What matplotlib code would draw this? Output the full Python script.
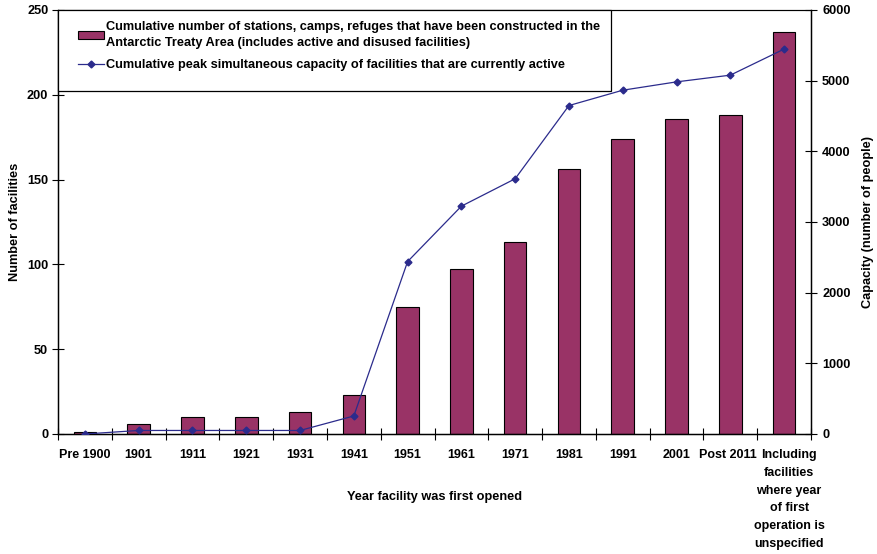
import matplotlib
matplotlib.use("Agg")
import matplotlib.pyplot as plt
import matplotlib.transforms as mtrans
import numpy as np
from matplotlib.patches import Patch, Rectangle
from matplotlib.lines import Line2D

plt.rcParams['font.family'] = ['Liberation Sans', 'DejaVu Sans']
plt.rcParams['font.weight'] = 'bold'

categories = ["Pre 1900", "1901", "1911", "1921", "1931", "1941", "1951", "1961",
              "1971", "1981", "1991", "2001", "Post 2011",
              "Including\nfacilities\nwhere year\nof first\noperation is\nunspecified"]
facilities = [1, 6, 10, 10, 13, 23, 75, 97, 113, 156, 174, 186, 188, 237]
capacity = [0, 50, 50, 50, 50, 255, 2440, 3224, 3612, 4648, 4865, 4983, 5078, 5447]

bar_label = ("Cumulative number of stations, camps, refuges that have been constructed in the\n"
             "Antarctic Treaty Area (includes active and disused facilities)")
line_label = "Cumulative peak simultaneous capacity of facilities that are currently active"

bar_color = "#993366"
line_color = "#2B2B8C"
fs = 9.2
fs_x = 9.0

W, H = 877, 554
fig = plt.figure(figsize=(W/100, H/100), dpi=100)
L, R, T, B = 58, 811, 10, 434
ax = fig.add_axes([L/W, 1 - B/H, (R-L)/W, (B-T)/H])
x = np.arange(len(categories))
ax.bar(x, facilities, width=0.42, color=bar_color, edgecolor="black", linewidth=0.8, zorder=2)
ax.set_xlim(-0.5, len(categories) - 0.5)
ax.set_ylim(0, 250)
ax.set_yticks(np.arange(0, 251, 50))
ax.set_xticks(x)
ax.set_xticklabels(categories, fontsize=fs_x, fontweight='bold', va='top', linespacing=1.63)
ax.set_xticks(np.arange(-0.5, len(categories), 1), minor=True)
ax.tick_params(axis='x', which='major', length=0, pad=11)
ax.tick_params(axis='x', which='minor', length=8, direction='inout', width=0.8)
ax.tick_params(axis='y', length=8, direction='inout', width=0.8, labelsize=fs, pad=3)
for lab in ax.get_yticklabels():
    lab.set_fontweight('bold')
ax.set_ylabel("Number of facilities", fontsize=fs, fontweight='bold', labelpad=4)
ax.set_xlabel("Year facility was first opened", fontsize=fs, fontweight='bold')
ax.xaxis.set_label_coords(0.5, -0.135)
for s in ['left', 'bottom', 'right']:
    ax.spines[s].set_linewidth(1.0)
ax.spines['top'].set_linewidth(0.8)
ax.spines['top'].set_color('#444444')

# nudge the crowded last labels apart, as in the reference
xlabs = ax.get_xticklabels()
xlabs[-1].set_transform(xlabs[-1].get_transform() +
                        mtrans.ScaledTranslation(5/100, 0, fig.dpi_scale_trans))
xlabs[-2].set_transform(xlabs[-2].get_transform() +
                        mtrans.ScaledTranslation(-2/100, 0, fig.dpi_scale_trans))

ax2 = ax.twinx()
ax2.plot(x, capacity, color=line_color, linewidth=0.9, marker='D', markersize=3.5,
         markerfacecolor=line_color, markeredgecolor=line_color, zorder=3)
ax2.set_ylim(0, 6000)
ax2.set_yticks(np.arange(0, 6001, 1000))
ax2.tick_params(axis='y', length=8, direction='inout', width=0.8, labelsize=fs, pad=4)
for lab in ax2.get_yticklabels():
    lab.set_fontweight('bold')
ax2.set_ylabel("Capacity (number of people)", fontsize=fs, fontweight='bold', labelpad=8)

# legend frame box
box = Rectangle((L/W, 1 - 91/H), (611-L)/W, (91-T)/H, transform=fig.transFigure,
                facecolor='white', edgecolor='black', linewidth=0.9, zorder=4)
fig.add_artist(box)

handles = [Patch(facecolor=bar_color, edgecolor='black', linewidth=0.8),
           Line2D([0], [0], color=line_color, linewidth=0.9, marker='D', markersize=3.5)]
leg = fig.legend(handles, [bar_label, line_label], loc='upper left',
                 bbox_to_anchor=(80/W - 0.002, 1 - 21/H), bbox_transform=fig.transFigure,
                 frameon=False, borderpad=0.0, labelspacing=0.8,
                 handlelength=2.0, handleheight=0.6, handletextpad=0.2, borderaxespad=0.0,
                 prop={'weight': 'bold', 'size': fs})
leg.set_zorder(5)
leg.get_texts()[0].set_linespacing(1.4)

fig.savefig("out.png", dpi=100)
